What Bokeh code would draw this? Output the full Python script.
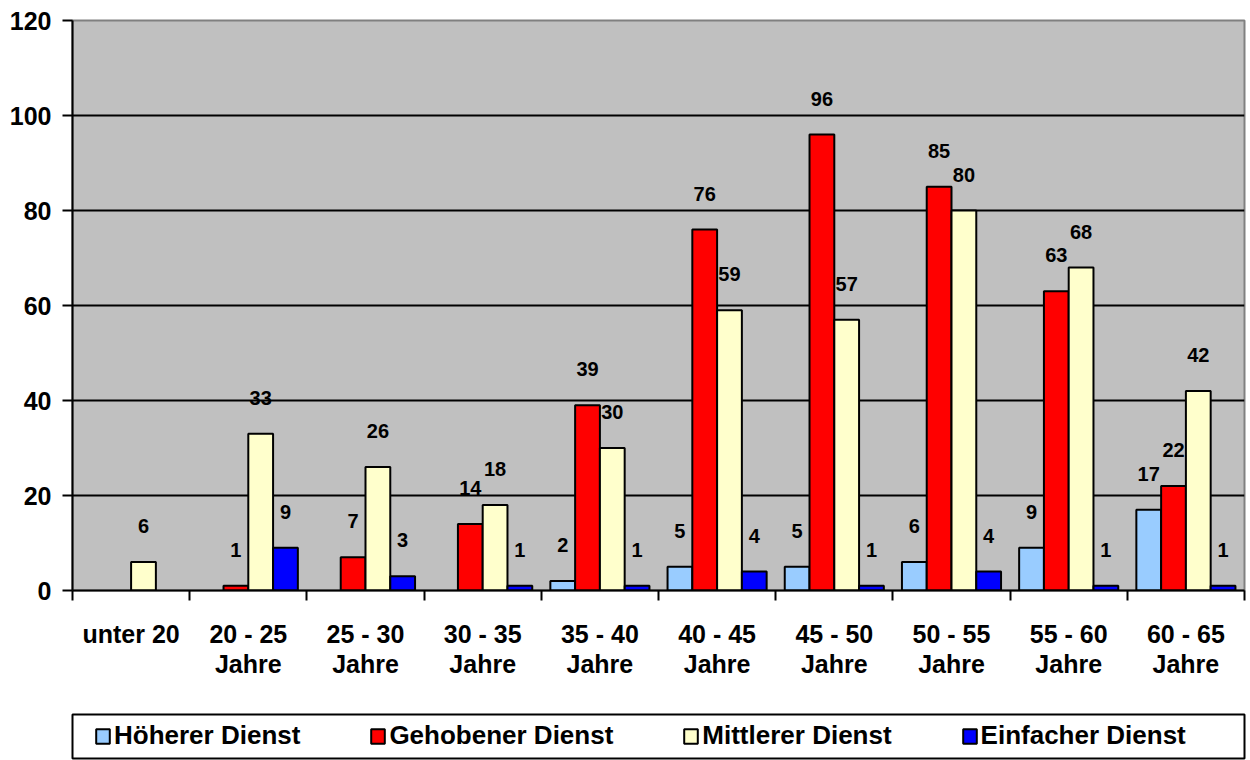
from bokeh.plotting import figure
from bokeh.layouts import column
from bokeh.models import ColumnDataSource, FixedTicker, Legend, LegendItem
from bokeh.core.properties import value
from bokeh.embed import file_html
from bokeh.resources import INLINE

# ---- data ----
categories = ["unter 20", "20 - 25\nJahre", "25 - 30\nJahre", "30 - 35\nJahre", "35 - 40\nJahre",
              "40 - 45\nJahre", "45 - 50\nJahre", "50 - 55\nJahre", "55 - 60\nJahre", "60 - 65\nJahre"]
series_names = ["Höherer Dienst", "Gehobener Dienst", "Mittlerer Dienst", "Einfacher Dienst"]
hoeherer = [0, 0, 0, 0, 2, 5, 5, 6, 9, 17]
gehobener = [0, 1, 7, 14, 39, 76, 96, 85, 63, 22]
mittlerer = [6, 33, 26, 18, 30, 59, 57, 80, 68, 42]
einfacher = [0, 9, 3, 1, 1, 4, 1, 4, 1, 1]
series_values = [hoeherer, gehobener, mittlerer, einfacher]
colors = ["#99CCFF", "#FF0000", "#FFFFCC", "#0000FF"]
y_ticks = [0, 20, 40, 60, 80, 100, 120]

FONT = "Liberation Sans"
n = len(categories)
bar_w = 0.2114

p = figure(width=1248, height=700, x_range=(0, n), y_range=(0, 120),
           output_backend="svg", toolbar_location=None,
           min_border_left=72, min_border_right=4, min_border_top=20, min_border_bottom=110,
           background_fill_color="#C0C0C0", border_fill_color="white")
p.outline_line_color = "#808080"
p.outline_line_width = 2

# grid
p.xgrid.visible = False
p.ygrid.ticker = FixedTicker(ticks=y_ticks[1:-1])
p.ygrid.grid_line_color = "black"
p.ygrid.grid_line_width = 2

# x axis
p.xaxis.ticker = FixedTicker(ticks=[i + 0.5 for i in range(n)], minor_ticks=list(range(n + 1)))
p.xaxis.major_label_overrides = {i + 0.5: c for i, c in enumerate(categories)}
p.xaxis.major_tick_line_color = None
p.xaxis.major_tick_out = 0
p.xaxis.major_tick_in = 0
p.xaxis.minor_tick_line_color = "black"
p.xaxis.minor_tick_line_width = 2
p.xaxis.minor_tick_out = 10
p.xaxis.minor_tick_in = 0
p.xaxis.major_label_standoff = 19
p.xaxis.major_label_text_line_height = 1.1
p.xaxis.axis_line_width = 2
p.xaxis.axis_line_color = "black"

# y axis
p.yaxis.ticker = FixedTicker(ticks=y_ticks)
p.yaxis.major_tick_out = 10
p.yaxis.major_tick_in = 0
p.yaxis.major_tick_line_width = 2
p.yaxis.minor_tick_line_color = None
p.yaxis.major_label_standoff = 11
p.yaxis.axis_line_width = 2
p.yaxis.axis_line_color = "black"

for ax in (p.xaxis, p.yaxis):
    ax.major_label_text_font = FONT
    ax.major_label_text_font_style = "bold"
    ax.major_label_text_font_size = "25px"
    ax.major_label_text_color = "black"

for k, (name, vals, col) in enumerate(zip(series_names, series_values, colors)):
    xs = [i + 0.5 + (k - 1.5) * bar_w for i, v in enumerate(vals) if v > 0]
    tops = [v for v in vals if v > 0]
    src = ColumnDataSource(dict(x=xs, top=tops, label=[str(v) for v in tops]))
    p.vbar(x="x", top="top", bottom=0, width=bar_w, source=src,
           fill_color=col, line_color="black", line_width=2)
    p.text(x="x", y="top", text="label", source=src, text_align="center",
           text_baseline="middle", y_offset=-36, text_font=value(FONT),
           text_font_style="bold", text_font_size="20px", text_color="black")

# ---- legend strip (its frame is the legend box) ----
lg = figure(width=1248, height=60, x_range=(0, 1), y_range=(0, 1),
            output_backend="svg", toolbar_location=None,
            x_axis_type=None, y_axis_type=None,
            min_border_left=72, min_border_right=4, min_border_top=14, min_border_bottom=2,
            background_fill_color="white", border_fill_color="white")
lg.grid.visible = False
lg.outline_line_color = "black"
lg.outline_line_width = 2

items = []
for name, vals, col in zip(series_names, series_values, colors):
    r = lg.vbar(x=list(range(n)), top=vals, width=bar_w, fill_color=col,
                line_color="black", line_width=2, visible=False)
    items.append(LegendItem(label=name, renderers=[r]))

legend = Legend(items=items, location=(22, 7), orientation="horizontal",
                border_line_color=None, background_fill_alpha=0,
                padding=0, spacing=69, margin=0, click_policy="none",
                inactive_fill_alpha=0,
                glyph_width=17, glyph_height=18, label_standoff=3,
                label_text_font=FONT, label_text_font_style="bold",
                label_text_font_size="26px", label_text_color="black")
lg.add_layout(legend)

layout = column(p, lg, spacing=0)
open("out.html", "w", encoding="utf-8").write(file_html(layout, INLINE))
